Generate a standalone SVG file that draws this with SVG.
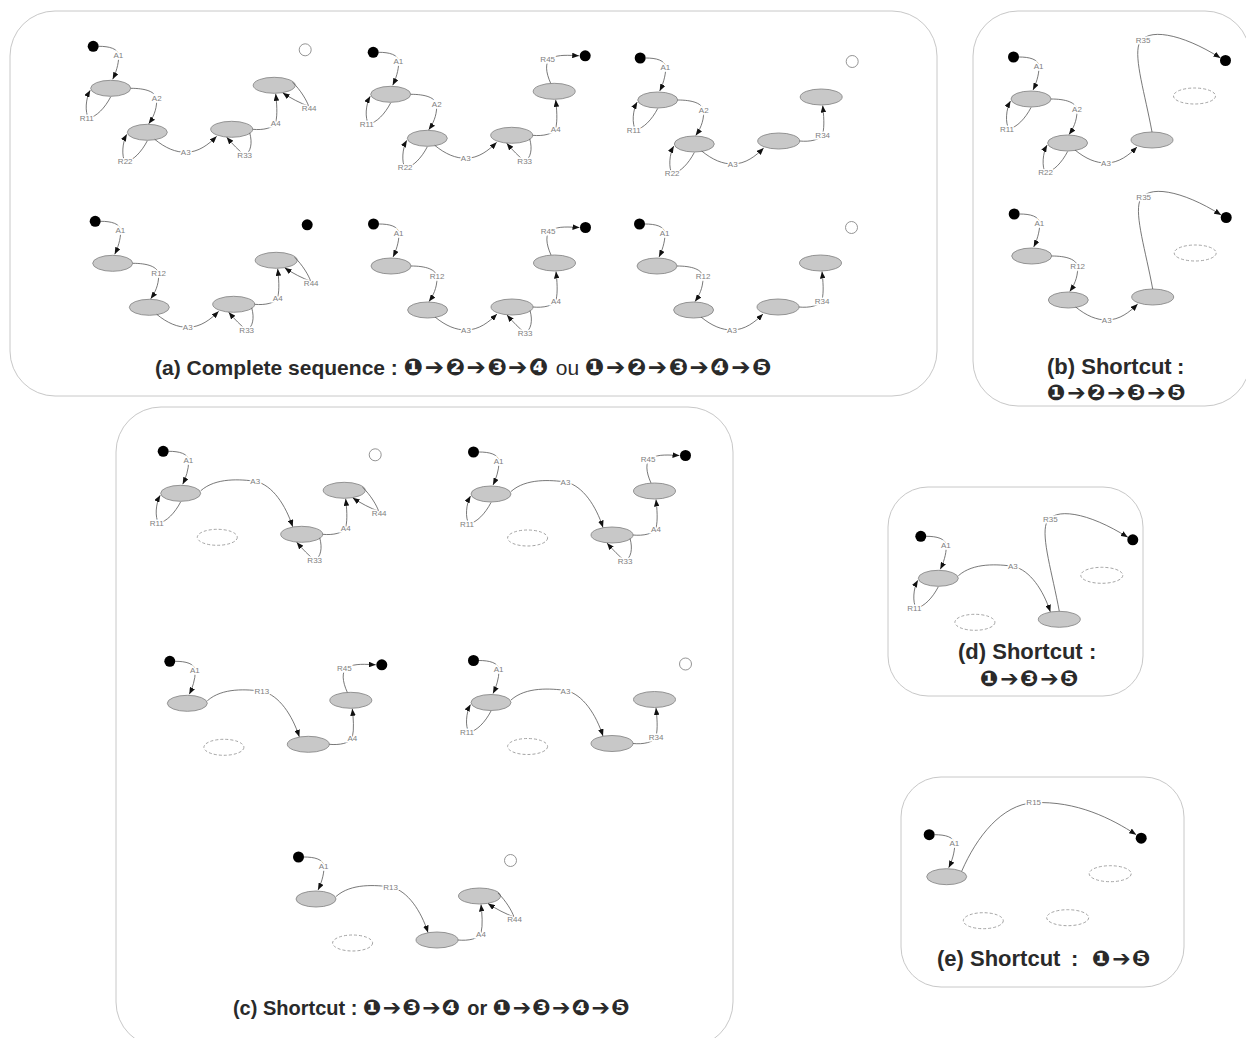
<svg xmlns="http://www.w3.org/2000/svg" width="1246" height="1038" viewBox="0 0 1246 1038">
<defs>
<marker id="ah" viewBox="0 0 10 8" refX="10" refY="4" markerWidth="7" markerHeight="5.6" markerUnits="userSpaceOnUse" orient="auto"><path d="M0,0 L10,4 L0,8 z" fill="#111"/></marker>
<style>
.ln{fill:none;stroke:#555;stroke-width:0.8}
.ar{marker-end:url(#ah)}
.st{fill:#c8c8c8;stroke:#8a8a8a;stroke-width:0.9}
.ds{fill:none;stroke:#9a9a9a;stroke-width:0.9;stroke-dasharray:3 2}
.bd{fill:#000}
.wd{fill:#fff;stroke:#888;stroke-width:0.9}
.lb{font-family:"Liberation Sans",Arial,sans-serif;font-size:8px;fill:#808080;text-anchor:middle;dominant-baseline:central;stroke:#fff;stroke-width:3;paint-order:stroke}
.panel{fill:#fff;stroke:#c8c8c8;stroke-width:1}
.ttl{font-family:"Liberation Sans",Arial,sans-serif;font-weight:bold;fill:#2a2a2a;text-anchor:middle}
.tts{font-family:"Liberation Sans",Arial,sans-serif;font-weight:bold;fill:#2a2a2a;text-anchor:start}
.sym{font-family:"DejaVu Sans",sans-serif;font-weight:bold}
</style>
</defs>
<rect width="1246" height="1038" fill="#fff"/>
<g id="panels">
<rect id="panel-a" class="panel" x="10" y="11" width="927" height="385" rx="45"/>
<rect id="panel-b" class="panel" x="973" y="11" width="277" height="395" rx="45"/>
<rect id="panel-c" class="panel" x="116" y="407" width="617" height="640" rx="45"/>
<rect id="panel-d" class="panel" x="888" y="487" width="255" height="209" rx="40"/>
<rect id="panel-e" class="panel" x="901" y="777" width="283" height="210" rx="40"/>
</g>

<!-- (a) sub 1 -->
<g id="a1" transform="translate(110.7,88.3)">
<g id="a1-s"><circle class="bd" cx="-17.5" cy="-42" r="5.5"/></g>
<g id="a1-e1"><ellipse class="st" cx="0" cy="0" rx="20" ry="8"/></g>
<g id="a1-e2"><ellipse class="st" cx="36.6" cy="44" rx="20" ry="8"/></g>
<g id="a1-e3"><ellipse class="st" cx="121" cy="41" rx="21" ry="8"/></g>
<g id="a1-e4"><ellipse class="st" cx="163.5" cy="-3" rx="21" ry="8"/></g>
<g id="a1-end"><circle class="wd" cx="194.5" cy="-38.5" r="6"/></g>
<g id="a1-edges">
<path class="ln ar" d="M-12,-42 C-2,-42 8,-40 8,-32 C8,-24 5,-15 2,-9"/><text class="lb" x="7.6" y="-33">A1</text>
<path class="ln ar" d="M0,8.5 C-6,20 -14,28 -22,30 C-26,24 -25,10 -20.5,2"/><text class="lb" x="-24" y="30">R11</text>
<path class="ln ar" d="M20,0 C34,0 46,3 46,12 C46,22 42,30 38,35.5"/><text class="lb" x="46" y="10">A2</text>
<path class="ln ar" d="M36.6,52.5 C30.6,64 22.6,72 14.6,74 C10.6,68 11.6,54 16.1,46"/><text class="lb" x="14.5" y="73">R22</text>
<path class="ln ar" d="M44,51 C55,60 65,64 75,64 C88,64 98,56 106,48"/><text class="lb" x="75" y="64">A3</text>
<path class="ln ar" d="M139,44.5 C142,55 140,64 134,67 C128,62 122,56 116,49"/><text class="lb" x="134" y="67">R33</text>
<path class="ln ar" d="M142,41 C152,42 163,40 165,34 C167,26 166,15 165,5.5"/><text class="lb" x="165" y="35">A4</text>
<path class="ln ar" d="M182,-6 C190,2 196,12 198,18 C190,15 180,10 172,4.5"/><text class="lb" x="198.5" y="20">R44</text>
</g>
</g>

<!-- (a) sub 2 -->
<g id="a2" transform="translate(390.7,94.3)">
<g id="a2-s"><circle class="bd" cx="-17.5" cy="-42" r="5.5"/></g>
<g id="a2-e1"><ellipse class="st" cx="0" cy="0" rx="20" ry="8"/></g>
<g id="a2-e2"><ellipse class="st" cx="36.6" cy="44" rx="20" ry="8"/></g>
<g id="a2-e3"><ellipse class="st" cx="121" cy="41" rx="21" ry="8"/></g>
<g id="a2-e4"><ellipse class="st" cx="163.5" cy="-3" rx="21" ry="8"/></g>
<g id="a2-end"><circle class="bd" cx="194.5" cy="-38.5" r="5.5"/></g>
<g id="a2-edges">
<path class="ln ar" d="M-12,-42 C-2,-42 8,-40 8,-32 C8,-24 5,-15 2,-9"/><text class="lb" x="7.6" y="-33">A1</text>
<path class="ln ar" d="M0,8.5 C-6,20 -14,28 -22,30 C-26,24 -25,10 -20.5,2"/><text class="lb" x="-24" y="30">R11</text>
<path class="ln ar" d="M20,0 C34,0 46,3 46,12 C46,22 42,30 38,35.5"/><text class="lb" x="46" y="10">A2</text>
<path class="ln ar" d="M36.6,52.5 C30.6,64 22.6,72 14.6,74 C10.6,68 11.6,54 16.1,46"/><text class="lb" x="14.5" y="73">R22</text>
<path class="ln ar" d="M44,51 C55,60 65,64 75,64 C88,64 98,56 106,48"/><text class="lb" x="75" y="64">A3</text>
<path class="ln ar" d="M139,44.5 C142,55 140,64 134,67 C128,62 122,56 116,49"/><text class="lb" x="134" y="67">R33</text>
<path class="ln ar" d="M142,41 C152,42 163,40 165,34 C167,26 166,15 165,5.5"/><text class="lb" x="165" y="35">A4</text>
<path class="ln ar" d="M160,-11 C155,-22 154,-32 160,-36 C168,-40 178,-39 188.5,-38.5"/><text class="lb" x="157" y="-35">R45</text>
</g>
</g>

<!-- (a) sub 3 -->
<g id="a3" transform="translate(657.7,100)">
<g id="a3-s"><circle class="bd" cx="-17.5" cy="-42" r="5.5"/></g>
<g id="a3-e1"><ellipse class="st" cx="0" cy="0" rx="20" ry="8"/></g>
<g id="a3-e2"><ellipse class="st" cx="36.6" cy="44" rx="20" ry="8"/></g>
<g id="a3-e3"><ellipse class="st" cx="121" cy="41" rx="21" ry="8"/></g>
<g id="a3-e4"><ellipse class="st" cx="163.5" cy="-3" rx="21" ry="8"/></g>
<g id="a3-end"><circle class="wd" cx="194.5" cy="-38.5" r="6"/></g>
<g id="a3-edges">
<path class="ln ar" d="M-12,-42 C-2,-42 8,-40 8,-32 C8,-24 5,-15 2,-9"/><text class="lb" x="7.6" y="-33">A1</text>
<path class="ln ar" d="M0,8.5 C-6,20 -14,28 -22,30 C-26,24 -25,10 -20.5,2"/><text class="lb" x="-24" y="30">R11</text>
<path class="ln ar" d="M20,0 C34,0 46,3 46,12 C46,22 42,30 38,35.5"/><text class="lb" x="46" y="10">A2</text>
<path class="ln ar" d="M36.6,52.5 C30.6,64 22.6,72 14.6,74 C10.6,68 11.6,54 16.1,46"/><text class="lb" x="14.5" y="73">R22</text>
<path class="ln ar" d="M44,51 C55,60 65,64 75,64 C88,64 98,56 106,48"/><text class="lb" x="75" y="64">A3</text>
<path class="ln ar" d="M142,41 C152,42 163,40 165,34 C167,26 166,15 165,5.5"/><text class="lb" x="165" y="35">R34</text>
</g>
</g>

<!-- (a) sub 4 -->
<g id="a4" transform="translate(112.7,263.3)">
<g id="a4-s"><circle class="bd" cx="-17.5" cy="-42" r="5.5"/></g>
<g id="a4-e1"><ellipse class="st" cx="0" cy="0" rx="20" ry="8"/></g>
<g id="a4-e2"><ellipse class="st" cx="36.6" cy="44" rx="20" ry="8"/></g>
<g id="a4-e3"><ellipse class="st" cx="121" cy="41" rx="21" ry="8"/></g>
<g id="a4-e4"><ellipse class="st" cx="163.5" cy="-3" rx="21" ry="8"/></g>
<g id="a4-end"><circle class="bd" cx="194.5" cy="-38.5" r="5.5"/></g>
<g id="a4-edges">
<path class="ln ar" d="M-12,-42 C-2,-42 8,-40 8,-32 C8,-24 5,-15 2,-9"/><text class="lb" x="7.6" y="-33">A1</text>
<path class="ln ar" d="M20,0 C34,0 46,3 46,12 C46,22 42,30 38,35.5"/><text class="lb" x="46" y="10">R12</text>
<path class="ln ar" d="M44,51 C55,60 65,64 75,64 C88,64 98,56 106,48"/><text class="lb" x="75" y="64">A3</text>
<path class="ln ar" d="M139,44.5 C142,55 140,64 134,67 C128,62 122,56 116,49"/><text class="lb" x="134" y="67">R33</text>
<path class="ln ar" d="M142,41 C152,42 163,40 165,34 C167,26 166,15 165,5.5"/><text class="lb" x="165" y="35">A4</text>
<path class="ln ar" d="M182,-6 C190,2 196,12 198,18 C190,15 180,10 172,4.5"/><text class="lb" x="198.5" y="20">R44</text>
</g>
</g>

<!-- (a) sub 5 -->
<g id="a5" transform="translate(391,266)">
<g id="a5-s"><circle class="bd" cx="-17.5" cy="-42" r="5.5"/></g>
<g id="a5-e1"><ellipse class="st" cx="0" cy="0" rx="20" ry="8"/></g>
<g id="a5-e2"><ellipse class="st" cx="36.6" cy="44" rx="20" ry="8"/></g>
<g id="a5-e3"><ellipse class="st" cx="121" cy="41" rx="21" ry="8"/></g>
<g id="a5-e4"><ellipse class="st" cx="163.5" cy="-3" rx="21" ry="8"/></g>
<g id="a5-end"><circle class="bd" cx="194.5" cy="-38.5" r="5.5"/></g>
<g id="a5-edges">
<path class="ln ar" d="M-12,-42 C-2,-42 8,-40 8,-32 C8,-24 5,-15 2,-9"/><text class="lb" x="7.6" y="-33">A1</text>
<path class="ln ar" d="M20,0 C34,0 46,3 46,12 C46,22 42,30 38,35.5"/><text class="lb" x="46" y="10">R12</text>
<path class="ln ar" d="M44,51 C55,60 65,64 75,64 C88,64 98,56 106,48"/><text class="lb" x="75" y="64">A3</text>
<path class="ln ar" d="M139,44.5 C142,55 140,64 134,67 C128,62 122,56 116,49"/><text class="lb" x="134" y="67">R33</text>
<path class="ln ar" d="M142,41 C152,42 163,40 165,34 C167,26 166,15 165,5.5"/><text class="lb" x="165" y="35">A4</text>
<path class="ln ar" d="M160,-11 C155,-22 154,-32 160,-36 C168,-40 178,-39 188.5,-38.5"/><text class="lb" x="157" y="-35">R45</text>
</g>
</g>

<!-- (a) sub 6 -->
<g id="a6" transform="translate(657,266)">
<g id="a6-s"><circle class="bd" cx="-17.5" cy="-42" r="5.5"/></g>
<g id="a6-e1"><ellipse class="st" cx="0" cy="0" rx="20" ry="8"/></g>
<g id="a6-e2"><ellipse class="st" cx="36.6" cy="44" rx="20" ry="8"/></g>
<g id="a6-e3"><ellipse class="st" cx="121" cy="41" rx="21" ry="8"/></g>
<g id="a6-e4"><ellipse class="st" cx="163.5" cy="-3" rx="21" ry="8"/></g>
<g id="a6-end"><circle class="wd" cx="194.5" cy="-38.5" r="6"/></g>
<g id="a6-edges">
<path class="ln ar" d="M-12,-42 C-2,-42 8,-40 8,-32 C8,-24 5,-15 2,-9"/><text class="lb" x="7.6" y="-33">A1</text>
<path class="ln ar" d="M20,0 C34,0 46,3 46,12 C46,22 42,30 38,35.5"/><text class="lb" x="46" y="10">R12</text>
<path class="ln ar" d="M44,51 C55,60 65,64 75,64 C88,64 98,56 106,48"/><text class="lb" x="75" y="64">A3</text>
<path class="ln ar" d="M142,41 C152,42 163,40 165,34 C167,26 166,15 165,5.5"/><text class="lb" x="165" y="35">R34</text>
</g>
</g>

<!-- (b) sub 1 -->
<g id="b1" transform="translate(1031,99)">
<g id="b1-s"><circle class="bd" cx="-17.5" cy="-42" r="5.5"/></g>
<g id="b1-e1"><ellipse class="st" cx="0" cy="0" rx="20" ry="8"/></g>
<g id="b1-e2"><ellipse class="st" cx="36.6" cy="44" rx="20" ry="8"/></g>
<g id="b1-e3"><ellipse class="st" cx="121" cy="41" rx="21" ry="8"/></g>
<g id="b1-e4"><ellipse class="ds" cx="163.5" cy="-3" rx="21" ry="8"/></g>
<g id="b1-end"><circle class="bd" cx="194.5" cy="-38.5" r="5.5"/></g>
<g id="b1-edges">
<path class="ln ar" d="M-12,-42 C-2,-42 8,-40 8,-32 C8,-24 5,-15 2,-9"/><text class="lb" x="7.6" y="-33">A1</text>
<path class="ln ar" d="M0,8.5 C-6,20 -14,28 -22,30 C-26,24 -25,10 -20.5,2"/><text class="lb" x="-24" y="30">R11</text>
<path class="ln ar" d="M20,0 C34,0 46,3 46,12 C46,22 42,30 38,35.5"/><text class="lb" x="46" y="10">A2</text>
<path class="ln ar" d="M36.6,52.5 C30.6,64 22.6,72 14.6,74 C10.6,68 11.6,54 16.1,46"/><text class="lb" x="14.5" y="73">R22</text>
<path class="ln ar" d="M44,51 C55,60 65,64 75,64 C88,64 98,56 106,48"/><text class="lb" x="75" y="64">A3</text>
<path class="ln ar" d="M121,33 C114,-5 103,-40 108,-55 C115,-72 150,-66 189.5,-41"/><text class="lb" x="112" y="-59">R35</text>
</g>
</g>

<!-- (b) sub 2 -->
<g id="b2" transform="translate(1031.7,256)">
<g id="b2-s"><circle class="bd" cx="-17.5" cy="-42" r="5.5"/></g>
<g id="b2-e1"><ellipse class="st" cx="0" cy="0" rx="20" ry="8"/></g>
<g id="b2-e2"><ellipse class="st" cx="36.6" cy="44" rx="20" ry="8"/></g>
<g id="b2-e3"><ellipse class="st" cx="121" cy="41" rx="21" ry="8"/></g>
<g id="b2-e4"><ellipse class="ds" cx="163.5" cy="-3" rx="21" ry="8"/></g>
<g id="b2-end"><circle class="bd" cx="194.5" cy="-38.5" r="5.5"/></g>
<g id="b2-edges">
<path class="ln ar" d="M-12,-42 C-2,-42 8,-40 8,-32 C8,-24 5,-15 2,-9"/><text class="lb" x="7.6" y="-33">A1</text>
<path class="ln ar" d="M20,0 C34,0 46,3 46,12 C46,22 42,30 38,35.5"/><text class="lb" x="46" y="10">R12</text>
<path class="ln ar" d="M44,51 C55,60 65,64 75,64 C88,64 98,56 106,48"/><text class="lb" x="75" y="64">A3</text>
<path class="ln ar" d="M121,33 C114,-5 103,-40 108,-55 C115,-72 150,-66 189.5,-41"/><text class="lb" x="112" y="-59">R35</text>
</g>
</g>

<!-- (c) sub 1 -->
<g id="c1" transform="translate(180.7,493.3)">
<g id="c1-s"><circle class="bd" cx="-17.5" cy="-42" r="5.5"/></g>
<g id="c1-e1"><ellipse class="st" cx="0" cy="0" rx="20" ry="8"/></g>
<g id="c1-e2"><ellipse class="ds" cx="36.6" cy="44" rx="20" ry="8"/></g>
<g id="c1-e3"><ellipse class="st" cx="121" cy="41" rx="21" ry="8"/></g>
<g id="c1-e4"><ellipse class="st" cx="163.5" cy="-3" rx="21" ry="8"/></g>
<g id="c1-end"><circle class="wd" cx="194.5" cy="-38.5" r="6"/></g>
<g id="c1-edges">
<path class="ln ar" d="M-12,-42 C-2,-42 8,-40 8,-32 C8,-24 5,-15 2,-9"/><text class="lb" x="7.6" y="-33">A1</text>
<path class="ln ar" d="M0,8.5 C-6,20 -14,28 -22,30 C-26,24 -25,10 -20.5,2"/><text class="lb" x="-24" y="30">R11</text>
<path class="ln ar" d="M20,-2.5 C35,-16 60,-14 75,-12 C92,-8 105,12 112,33.5"/><text class="lb" x="74.5" y="-11.5">A3</text>
<path class="ln ar" d="M139,44.5 C142,55 140,64 134,67 C128,62 122,56 116,49"/><text class="lb" x="134" y="67">R33</text>
<path class="ln ar" d="M142,41 C152,42 163,40 165,34 C167,26 166,15 165,5.5"/><text class="lb" x="165" y="35">A4</text>
<path class="ln ar" d="M182,-6 C190,2 196,12 198,18 C190,15 180,10 172,4.5"/><text class="lb" x="198.5" y="20">R44</text>
</g>
</g>

<!-- (c) sub 2 -->
<g id="c2" transform="translate(491,494)">
<g id="c2-s"><circle class="bd" cx="-17.5" cy="-42" r="5.5"/></g>
<g id="c2-e1"><ellipse class="st" cx="0" cy="0" rx="20" ry="8"/></g>
<g id="c2-e2"><ellipse class="ds" cx="36.6" cy="44" rx="20" ry="8"/></g>
<g id="c2-e3"><ellipse class="st" cx="121" cy="41" rx="21" ry="8"/></g>
<g id="c2-e4"><ellipse class="st" cx="163.5" cy="-3" rx="21" ry="8"/></g>
<g id="c2-end"><circle class="bd" cx="194.5" cy="-38.5" r="5.5"/></g>
<g id="c2-edges">
<path class="ln ar" d="M-12,-42 C-2,-42 8,-40 8,-32 C8,-24 5,-15 2,-9"/><text class="lb" x="7.6" y="-33">A1</text>
<path class="ln ar" d="M0,8.5 C-6,20 -14,28 -22,30 C-26,24 -25,10 -20.5,2"/><text class="lb" x="-24" y="30">R11</text>
<path class="ln ar" d="M20,-2.5 C35,-16 60,-14 75,-12 C92,-8 105,12 112,33.5"/><text class="lb" x="74.5" y="-11.5">A3</text>
<path class="ln ar" d="M139,44.5 C142,55 140,64 134,67 C128,62 122,56 116,49"/><text class="lb" x="134" y="67">R33</text>
<path class="ln ar" d="M142,41 C152,42 163,40 165,34 C167,26 166,15 165,5.5"/><text class="lb" x="165" y="35">A4</text>
<path class="ln ar" d="M160,-11 C155,-22 154,-32 160,-36 C168,-40 178,-39 188.5,-38.5"/><text class="lb" x="157" y="-35">R45</text>
</g>
</g>

<!-- (c) sub 3 -->
<g id="c3" transform="translate(187.3,703.3)">
<g id="c3-s"><circle class="bd" cx="-17.5" cy="-42" r="5.5"/></g>
<g id="c3-e1"><ellipse class="st" cx="0" cy="0" rx="20" ry="8"/></g>
<g id="c3-e2"><ellipse class="ds" cx="36.6" cy="44" rx="20" ry="8"/></g>
<g id="c3-e3"><ellipse class="st" cx="121" cy="41" rx="21" ry="8"/></g>
<g id="c3-e4"><ellipse class="st" cx="163.5" cy="-3" rx="21" ry="8"/></g>
<g id="c3-end"><circle class="bd" cx="194.5" cy="-38.5" r="5.5"/></g>
<g id="c3-edges">
<path class="ln ar" d="M-12,-42 C-2,-42 8,-40 8,-32 C8,-24 5,-15 2,-9"/><text class="lb" x="7.6" y="-33">A1</text>
<path class="ln ar" d="M20,-2.5 C35,-16 60,-14 75,-12 C92,-8 105,12 112,33.5"/><text class="lb" x="74.5" y="-11.5">R13</text>
<path class="ln ar" d="M142,41 C152,42 163,40 165,34 C167,26 166,15 165,5.5"/><text class="lb" x="165" y="35">A4</text>
<path class="ln ar" d="M160,-11 C155,-22 154,-32 160,-36 C168,-40 178,-39 188.5,-38.5"/><text class="lb" x="157" y="-35">R45</text>
</g>
</g>

<!-- (c) sub 4 -->
<g id="c4" transform="translate(491,702.5)">
<g id="c4-s"><circle class="bd" cx="-17.5" cy="-42" r="5.5"/></g>
<g id="c4-e1"><ellipse class="st" cx="0" cy="0" rx="20" ry="8"/></g>
<g id="c4-e2"><ellipse class="ds" cx="36.6" cy="44" rx="20" ry="8"/></g>
<g id="c4-e3"><ellipse class="st" cx="121" cy="41" rx="21" ry="8"/></g>
<g id="c4-e4"><ellipse class="st" cx="163.5" cy="-3" rx="21" ry="8"/></g>
<g id="c4-end"><circle class="wd" cx="194.5" cy="-38.5" r="6"/></g>
<g id="c4-edges">
<path class="ln ar" d="M-12,-42 C-2,-42 8,-40 8,-32 C8,-24 5,-15 2,-9"/><text class="lb" x="7.6" y="-33">A1</text>
<path class="ln ar" d="M0,8.5 C-6,20 -14,28 -22,30 C-26,24 -25,10 -20.5,2"/><text class="lb" x="-24" y="30">R11</text>
<path class="ln ar" d="M20,-2.5 C35,-16 60,-14 75,-12 C92,-8 105,12 112,33.5"/><text class="lb" x="74.5" y="-11.5">A3</text>
<path class="ln ar" d="M142,41 C152,42 163,40 165,34 C167,26 166,15 165,5.5"/><text class="lb" x="165" y="35">R34</text>
</g>
</g>

<!-- (c) sub 5 -->
<g id="c5" transform="translate(316,899)">
<g id="c5-s"><circle class="bd" cx="-17.5" cy="-42" r="5.5"/></g>
<g id="c5-e1"><ellipse class="st" cx="0" cy="0" rx="20" ry="8"/></g>
<g id="c5-e2"><ellipse class="ds" cx="36.6" cy="44" rx="20" ry="8"/></g>
<g id="c5-e3"><ellipse class="st" cx="121" cy="41" rx="21" ry="8"/></g>
<g id="c5-e4"><ellipse class="st" cx="163.5" cy="-3" rx="21" ry="8"/></g>
<g id="c5-end"><circle class="wd" cx="194.5" cy="-38.5" r="6"/></g>
<g id="c5-edges">
<path class="ln ar" d="M-12,-42 C-2,-42 8,-40 8,-32 C8,-24 5,-15 2,-9"/><text class="lb" x="7.6" y="-33">A1</text>
<path class="ln ar" d="M20,-2.5 C35,-16 60,-14 75,-12 C92,-8 105,12 112,33.5"/><text class="lb" x="74.5" y="-11.5">R13</text>
<path class="ln ar" d="M142,41 C152,42 163,40 165,34 C167,26 166,15 165,5.5"/><text class="lb" x="165" y="35">A4</text>
<path class="ln ar" d="M182,-6 C190,2 196,12 198,18 C190,15 180,10 172,4.5"/><text class="lb" x="198.5" y="20">R44</text>
</g>
</g>

<!-- (d) -->
<g id="d1" transform="translate(938.3,578.3)">
<g id="d1-s"><circle class="bd" cx="-17.5" cy="-42" r="5.5"/></g>
<g id="d1-e1"><ellipse class="st" cx="0" cy="0" rx="20" ry="8"/></g>
<g id="d1-e2"><ellipse class="ds" cx="36.6" cy="44" rx="20" ry="8"/></g>
<g id="d1-e3"><ellipse class="st" cx="121" cy="41" rx="21" ry="8"/></g>
<g id="d1-e4"><ellipse class="ds" cx="163.5" cy="-3" rx="21" ry="8"/></g>
<g id="d1-end"><circle class="bd" cx="194.5" cy="-38.5" r="5.5"/></g>
<g id="d1-edges">
<path class="ln ar" d="M-12,-42 C-2,-42 8,-40 8,-32 C8,-24 5,-15 2,-9"/><text class="lb" x="7.6" y="-33">A1</text>
<path class="ln ar" d="M0,8.5 C-6,20 -14,28 -22,30 C-26,24 -25,10 -20.5,2"/><text class="lb" x="-24" y="30">R11</text>
<path class="ln ar" d="M20,-2.5 C35,-16 60,-14 75,-12 C92,-8 105,12 112,33.5"/><text class="lb" x="74.5" y="-11.5">A3</text>
<path class="ln ar" d="M121,33 C114,-5 103,-40 108,-55 C115,-72 150,-66 189.5,-41"/><text class="lb" x="112" y="-59">R35</text>
</g>
</g>

<!-- (e) -->
<g id="e1" transform="translate(946.7,876.7)">
<g id="e1-s"><circle class="bd" cx="-17.5" cy="-42" r="5.5"/></g>
<g id="e1-e1"><ellipse class="st" cx="0" cy="0" rx="20" ry="8"/></g>
<g id="e1-e2"><ellipse class="ds" cx="36.6" cy="44" rx="20" ry="8"/></g>
<g id="e1-e3"><ellipse class="ds" cx="121" cy="41" rx="21" ry="8"/></g>
<g id="e1-e4"><ellipse class="ds" cx="163.5" cy="-3" rx="21" ry="8"/></g>
<g id="e1-end"><circle class="bd" cx="194.5" cy="-38.5" r="5.5"/></g>
<g id="e1-edges">
<path class="ln ar" d="M-12,-42 C-2,-42 8,-40 8,-32 C8,-24 5,-15 2,-9"/><text class="lb" x="7.6" y="-33">A1</text>
<path class="ln ar" d="M15,-5.5 C30,-40 55,-72 87,-74 C130,-76 165,-58 189.5,-42"/><text class="lb" x="87" y="-74">R15</text>
</g>
</g>

<g id="titles">
<text class="ttl" x="464" y="375" font-size="21">(a) Complete sequence : <tspan class="sym" font-size="23" letter-spacing="1.5">❶➔❷➔❸➔❹</tspan> <tspan font-weight="normal">ou</tspan> <tspan class="sym" font-size="23" letter-spacing="1.5">❶➔❷➔❸➔❹➔❺</tspan></text>
<text class="tts" x="1047" y="374" font-size="22">(b) Shortcut<tspan x="1177">:</tspan></text>
<text class="tts" x="1047" y="400" font-size="22"><tspan class="sym" letter-spacing="1.5">❶➔❷➔❸➔❺</tspan></text>
<text class="ttl" x="432" y="1015" font-size="20">(c) Shortcut : <tspan class="sym" font-size="22" letter-spacing="1.2">❶➔❸➔❹</tspan> or <tspan class="sym" font-size="22" letter-spacing="1.2">❶➔❸➔❹➔❺</tspan></text>
<text class="tts" x="958" y="659" font-size="22">(d) Shortcut<tspan x="1089">:</tspan></text>
<text class="tts" x="980" y="686" font-size="22"><tspan class="sym" letter-spacing="1.5">❶➔❸➔❺</tspan></text>
<text class="tts" x="937" y="966" font-size="22">(e) Shortcut<tspan x="1071">:</tspan><tspan class="sym" x="1092" letter-spacing="1.5">❶➔❺</tspan></text>
</g>
</svg>
